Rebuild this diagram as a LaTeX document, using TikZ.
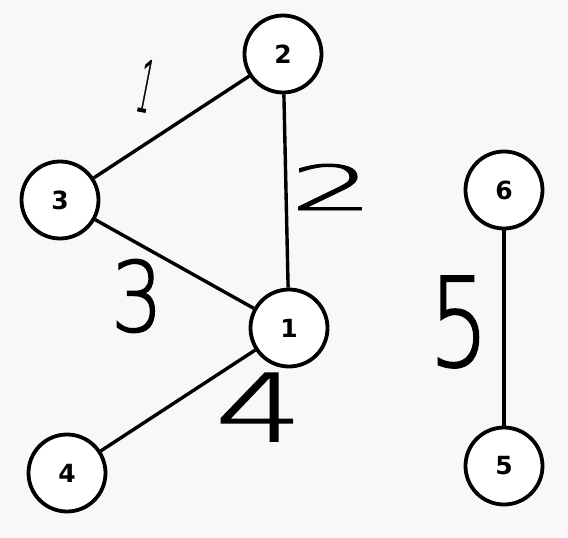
\documentclass[tikz,border=0pt]{standalone}
\usepackage{fontspec}
\setmainfont{DejaVu Sans}
\newfontfamily\handfont[FakeBold=1.6]{DejaVuSans-ExtraLight.ttf}
\definecolor{paper}{HTML}{F8F8F8}
\newcommand{\hw}[3]{\resizebox{#1pt}{#2pt}{\handfont #3}}

\begin{document}
\begin{tikzpicture}[x=1pt,y=-1pt,
  vertex/.style={circle,draw,line width=3.8pt,fill=white,minimum size=77pt,inner sep=0pt,
    font=\bfseries\fontsize{25}{25}\selectfont},
  link/.style={line width=3.4pt},
  weight/.style={inner sep=0pt}]
\fill[paper] (0,0) rectangle (568,538);
\useasboundingbox (0,0) rectangle (568,538);
% vertices
\node[vertex] (v2) at (283,54) {2};
\node[vertex] (v3) at (60,200) {3};
\node[vertex] (v1) at (289,328) {1};
\node[vertex] (v4) at (67,473) {4};
\node[vertex] (v6) at (504,190) {6};
\node[vertex] (v5) at (504,466) {5};
% edges
\draw[link] (v3) -- (v2);
\draw[link] (v2) -- (v1);
\draw[link] (v3) -- (v1);
\draw[link] (v1) -- (v4);
\draw[link] (v6) -- (v5);
% weights
\node[weight,rotate=-11] (w1) at (146,86) {\hw{14}{52}{1}};
\node[weight] (w2) at (332,187) {\hw{84}{46}{2}};
\node[weight] (w3) at (137,296) {\hw{52}{72}{3}};
\node[weight] (w4) at (259,407) {\hw{88}{68}{4}};
\node[weight] (w5) at (459,322) {\hw{60}{90}{5}};
\end{tikzpicture}
\end{document}
